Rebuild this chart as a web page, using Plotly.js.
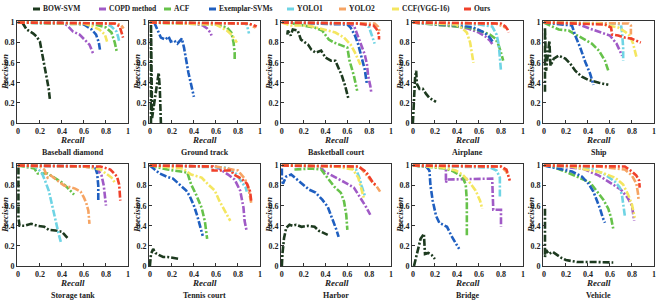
<!DOCTYPE html>
<html><head><meta charset="utf-8">
<script src="https://cdn.plot.ly/plotly-3.0.1.min.js"></script>
<style>html,body{margin:0;padding:0;background:#fff}#chart{width:663px;height:301px}</style>
</head><body><div id="chart"></div>
<script>
const panels = ['Baseball diamond','Ground track','Basketball court','Airplane','Ship','Storage tank','Tennis court','Harbor','Bridge','Vehicle'];
const methods = ['BOW-SVM','COPD method','ACF','Exemplar-SVMs','YOLO1','YOLO2','CCF(VGG-16)','Ours'];
const colors = ['#1d3a1f','#a05ac6','#66c24a','#1f5fc0','#6fd4e4','#f6a463','#f4e660','#f0402a'];
const ticks = [0,0.2,0.4,0.6,0.8,1];
const tickText = ['0','0.2','0.4','0.6','0.8','1'];

// Recall / precision per panel (order of panels above)
const bowR = [
 [0.04,0.08,0.14,0.17,0.2,0.22,0.24,0.26,0.28,0.29],
 [0.01,0.01,0.02,0.04,0.06,0.08,0.09,0.1],
 [0.05,0.055,0.08,0.1,0.145,0.175,0.24,0.27,0.31,0.36,0.4,0.45,0.49,0.52,0.55,0.58,0.61],
 [0.0,0.01,0.02,0.03,0.036,0.06,0.09,0.12,0.15,0.21],
 [0.01,0.01,0.02,0.04,0.05,0.06,0.09,0.135,0.195,0.24,0.285,0.345,0.4,0.5,0.585],
 [0.005,0.005,0.015,0.06,0.12,0.18,0.24,0.28,0.36,0.4,0.45],
 [0.0,0.01,0.03,0.05,0.08,0.12,0.16,0.2,0.27],
 [0.0,0.005,0.02,0.04,0.07,0.1,0.13,0.18,0.24,0.3,0.34,0.42],
 [0.01,0.04,0.07,0.1,0.11,0.14,0.17,0.2],
 [0.01,0.01,0.02,0.045,0.08,0.12,0.16,0.2,0.3,0.45,0.63]];
const bowP = [
 [1.0,0.93,0.89,0.86,0.81,0.68,0.59,0.46,0.34,0.24],
 [0.0,1.0,0.05,0.2,0.35,0.5,0.35,0.0],
 [0.88,0.92,0.87,0.93,0.92,0.83,0.78,0.73,0.7,0.72,0.65,0.62,0.62,0.55,0.47,0.37,0.24],
 [0.0,0.3,0.45,0.52,0.39,0.34,0.34,0.29,0.25,0.21],
 [0.31,0.95,0.52,0.72,0.82,0.57,0.64,0.67,0.64,0.59,0.52,0.46,0.43,0.4,0.38],
 [0.98,0.48,0.4,0.4,0.42,0.4,0.39,0.36,0.35,0.34,0.28],
 [0.0,0.12,0.17,0.13,0.11,0.09,0.09,0.08,0.07],
 [0.0,0.12,0.28,0.38,0.41,0.4,0.41,0.39,0.4,0.39,0.35,0.31],
 [0.0,0.15,0.27,0.32,0.12,0.13,0.11,0.07],
 [0.57,0.09,0.16,0.12,0.14,0.11,0.08,0.06,0.04,0.04,0.035]];

const copdR = [
 [0,0.4,0.45,0.5,0.56,0.61,0.65,0.68,0.69],
 [0,0.4,0.48,0.52,0.55,0.56],
 [0,0.6,0.66,0.7,0.73,0.76,0.78,0.79,0.81,0.82],
 [0,0.2,0.4,0.5,0.6,0.66,0.7,0.73],
 [0,0.3,0.44,0.53,0.6,0.66,0.69,0.71],
 [0,0.6,0.72,0.76,0.78,0.79,0.8],
 [0,0.6,0.71,0.77,0.82,0.85,0.86,0.88],
 [0,0.35,0.39,0.48,0.58,0.66,0.72,0.77,0.81],
 [0,0.3,0.3,0.31,0.72,0.73,0.8,0.8],
 [0,0.35,0.5,0.6,0.7,0.76,0.8,0.82]];
const copdP = [
 [1,1,0.97,0.91,0.88,0.83,0.78,0.7,0.68],
 [1,0.99,0.97,0.94,0.9,0.87],
 [1,0.99,0.97,0.85,0.78,0.68,0.58,0.47,0.37,0.3],
 [1,0.98,0.96,0.94,0.9,0.86,0.82,0.77],
 [1,0.99,0.93,0.9,0.87,0.79,0.72,0.67],
 [1,0.99,0.97,0.9,0.8,0.7,0.6],
 [1,0.99,0.91,0.86,0.75,0.58,0.45,0.34],
 [1,0.99,0.94,0.89,0.83,0.78,0.68,0.59,0.51],
 [1,0.98,0.83,0.86,0.87,0.56,0.56,0.39],
 [1,0.97,0.9,0.83,0.76,0.68,0.6,0.45]];

const acfR = [
 [0,0.7,0.8,0.85,0.88,0.9],
 [0,0.6,0.7,0.74,0.76,0.77,0.77],
 [0.1,0.22,0.3,0.37,0.43,0.48,0.55,0.6,0.62,0.66,0.69],
 [0,0.3,0.5,0.6,0.7,0.75,0.78,0.8,0.82],
 [0,0.135,0.225,0.345,0.435,0.5,0.555,0.585],
 [0,0.15,0.18,0.27,0.33,0.4,0.45,0.51],
 [0,0.16,0.28,0.34,0.375,0.42,0.47,0.5,0.52],
 [0.115,0.27,0.36,0.42,0.48,0.54,0.57,0.59,0.6],
 [0,0.3,0.37,0.45,0.48,0.49,0.49],
 [0,0.075,0.195,0.285,0.36,0.42,0.48,0.54,0.585,0.61,0.63]];
const acfP = [
 [1,0.98,0.95,0.9,0.8,0.7],
 [1,0.98,0.95,0.9,0.8,0.7,0.62],
 [0.99,0.97,0.95,0.92,0.83,0.8,0.77,0.75,0.62,0.47,0.32],
 [1,0.97,0.95,0.92,0.88,0.84,0.77,0.7,0.62],
 [1,0.93,0.92,0.85,0.79,0.72,0.62,0.52],
 [1,0.97,0.92,0.92,0.88,0.83,0.78,0.71],
 [1,0.96,0.94,0.93,0.81,0.71,0.58,0.44,0.27],
 [0.96,0.97,0.96,0.87,0.79,0.73,0.64,0.51,0.36],
 [1,0.97,0.94,0.89,0.81,0.65,0.3],
 [1,0.99,0.94,0.9,0.86,0.83,0.75,0.66,0.57,0.48,0.37]];

const exR = [
 [0,0.55,0.6,0.67,0.71,0.735,0.745],
 [0.04,0.1,0.14,0.17,0.19,0.22,0.25,0.29,0.31,0.35,0.4],
 [0,0.6,0.63,0.67,0.7,0.73,0.76,0.78],
 [0,0.45,0.55,0.65,0.7,0.73],
 [0,0.255,0.285,0.33,0.375,0.42,0.45],
 [0,0.7,0.72,0.73,0.73],
 [0,0.09,0.15,0.21,0.28,0.33,0.36,0.4,0.43,0.46,0.48],
 [0,0,0.01,0.04,0.085,0.13,0.19,0.25,0.31,0.37,0.42,0.46,0.5,0.52],
 [0,0.12,0.15,0.16,0.18,0.21,0.24,0.31,0.35,0.42],
 [0,0.135,0.255,0.345,0.405,0.45,0.48,0.51,0.535,0.555]];
const exP = [
 [1,0.99,0.98,0.93,0.88,0.8,0.73],
 [1.0,0.85,0.83,0.86,0.81,0.82,0.79,0.84,0.75,0.5,0.26],
 [1,0.98,0.95,0.87,0.78,0.65,0.53,0.38],
 [1,0.97,0.95,0.9,0.85,0.8],
 [1,0.97,0.87,0.75,0.61,0.49,0.38],
 [1,0.99,0.92,0.8,0.65],
 [1,0.92,0.89,0.87,0.8,0.75,0.7,0.6,0.5,0.38,0.3],
 [0.97,0.86,0.82,0.89,0.91,0.87,0.81,0.76,0.73,0.66,0.59,0.48,0.36,0.29],
 [1,0.99,0.95,0.8,0.65,0.5,0.43,0.39,0.3,0.17],
 [1,0.97,0.94,0.89,0.82,0.74,0.66,0.57,0.48,0.43]];

const y1R = [
 [0,0.8,0.85,0.895,0.91,0.92],
 [0,0.86,0.88,0.89,0.9],
 [0,0.75,0.8,0.83,0.85],
 [0,0.6,0.72,0.76,0.78,0.79,0.8],
 [0,0.65,0.7,0.71,0.72,0.72],
 [0,0.15,0.18,0.22,0.25,0.28,0.31,0.34,0.37,0.39],
 [0,0.7,0.78,0.84,0.87,0.88],
 [0,0.6,0.68,0.71,0.73,0.75,0.76],
 [0,0.7,0.76,0.79,0.79,0.79],
 [0,0.3,0.435,0.555,0.645,0.69,0.71,0.72,0.735]];
const y1P = [
 [1,0.99,0.96,0.91,0.86,0.81],
 [1,0.99,0.98,0.93,0.89],
 [1,0.99,0.95,0.86,0.79],
 [1,0.98,0.96,0.88,0.78,0.68,0.52],
 [1,0.99,0.98,0.9,0.75,0.62],
 [1,0.99,0.97,0.92,0.84,0.75,0.61,0.45,0.32,0.24],
 [1,0.98,0.92,0.83,0.78,0.74],
 [1,0.99,0.96,0.88,0.8,0.74,0.7],
 [1,0.98,0.95,0.88,0.78,0.68],
 [1,0.99,0.97,0.91,0.84,0.78,0.7,0.61,0.5]];

const y2R = [
 [0,0.9,0.94,0.96],
 [0,0.9,0.94,0.96],
 [0,0.85,0.88,0.9],
 [0,0.75,0.8,0.84],
 [0,0.77,0.79,0.79],
 [0,0.2,0.24,0.27,0.3,0.37,0.42,0.52,0.57,0.6,0.62,0.64,0.65],
 [0,0.6,0.8,0.86,0.89,0.91,0.92],
 [0,0.7,0.72,0.8,0.84,0.87,0.9],
 [0,0.8,0.85,0.86],
 [0,0.5,0.65,0.735,0.8,0.84,0.855,0.86]];
const y2P = [
 [1,0.99,0.97,0.94],
 [1,0.99,0.96,0.95],
 [1,0.99,0.96,0.9],
 [1,0.99,0.97,0.95],
 [1,0.99,0.97,0.88],
 [1,0.99,0.96,0.88,0.9,0.84,0.8,0.77,0.74,0.68,0.63,0.55,0.42],
 [1,0.99,0.95,0.87,0.8,0.7,0.63],
 [1,0.99,0.98,0.87,0.82,0.79,0.74],
 [1,0.99,0.94,0.9],
 [1,0.99,0.97,0.96,0.9,0.82,0.72,0.66]];

const ccfR = [
 [0,0.6,0.68,0.74,0.79,0.81],
 [0,0.6,0.7,0.75,0.79],
 [0,0.085,0.24,0.42,0.49,0.57,0.63,0.67,0.7,0.72],
 [0,0.39,0.45,0.49,0.52,0.54,0.55],
 [0,0.5,0.675,0.735,0.78,0.81,0.84],
 [0,0.6,0.75,0.8,0.85,0.88],
 [0,0.3,0.375,0.47,0.53,0.59,0.63,0.68,0.73],
 [0,0.5,0.65,0.7,0.72,0.74,0.75],
 [0,0.27,0.39,0.45,0.51,0.57,0.61,0.63],
 [0,0.25,0.375,0.525,0.645,0.72,0.765,0.8,0.825]];
const ccfP = [
 [1,0.99,0.96,0.93,0.88,0.81],
 [1,0.98,0.92,0.87,0.8],
 [1,0.97,0.97,0.92,0.9,0.85,0.78,0.7,0.63,0.58],
 [1,0.98,0.94,0.9,0.8,0.68,0.6],
 [1,0.99,0.95,0.91,0.87,0.79,0.66],
 [1,0.99,0.96,0.92,0.88,0.83],
 [1,0.97,0.91,0.88,0.81,0.75,0.65,0.55,0.45],
 [1,0.99,0.96,0.88,0.8,0.72,0.68],
 [1,0.98,0.95,0.91,0.84,0.75,0.65,0.57],
 [1,0.99,0.96,0.93,0.88,0.81,0.71,0.61,0.48]];

const oursR = [
 [0,0.88,0.925,0.94,0.955],
 [0,0.88,0.93,0.97],
 [0,0.69,0.84,0.87,0.89,0.89],
 [0,0.8,0.84,0.86,0.87],
 [0,0.555,0.61,0.62,0.675,0.735,0.795,0.84,0.88],
 [0,0.75,0.84,0.9,0.92,0.93],
 [0,0.57,0.57,0.74,0.76,0.79,0.83,0.88,0.91,0.92],
 [0,0.7,0.77,0.81,0.84,0.86],
 [0,0.8,0.85,0.87,0.88],
 [0,0.6,0.735,0.8,0.84,0.865,0.87]];
const oursP = [
 [1,0.99,0.96,0.91,0.85],
 [1,0.99,0.98,0.96],
 [1,0.99,0.97,0.93,0.88,0.83],
 [1,0.99,0.96,0.93,0.9],
 [1,0.98,0.95,0.88,0.87,0.85,0.84,0.82,0.8],
 [1,0.99,0.96,0.89,0.81,0.65],
 [1,0.99,0.95,0.95,0.91,0.89,0.87,0.82,0.74,0.65],
 [1,0.99,0.94,0.87,0.82,0.81],
 [1,0.99,0.96,0.9,0.85],
 [1,0.99,0.99,0.94,0.9,0.85,0.78]];

const allR = [bowR,copdR,acfR,exR,y1R,y2R,ccfR,oursR];
const allP = [bowP,copdP,acfP,exP,y1P,y2P,ccfP,oursP];

const W = 663, H = 301;
const colsPx = [[17,128],[149,260],[281,391],[412,523],[543,654]];
const rowsPx = [[21,123],[164,266]];
const fx = px => px / W;
const fy = px => 1 - px / H;
const serif = 'Liberation Serif, Times New Roman, serif';

const traces = [];
methods.forEach((m, mi) => {
  panels.forEach((p, pi) => {
    const s = pi === 0 ? '' : String(pi + 1);
    traces.push({
      x: allR[mi][pi], y: allP[mi][pi], xaxis: 'x' + s, yaxis: 'y' + s,
      type: 'scatter', mode: 'lines', name: m, showlegend: false, hoverinfo: 'skip',
      line: {color: colors[mi], width: 2.6, dash: '7px,2px,2px,2px'}
    });
  });
});

const layout = {
  width: W, height: H, margin: {l: 0, r: 0, t: 0, b: 0},
  paper_bgcolor: '#fff', plot_bgcolor: '#fff', showlegend: false,
  annotations: [], shapes: []
};

panels.forEach((p, pi) => {
  const s = pi === 0 ? '' : String(pi + 1);
  const c = colsPx[pi % 5], r = rowsPx[Math.floor(pi / 5)];
  const axCommon = {
    tickvals: ticks, ticktext: tickText, showgrid: false, zeroline: false,
    showline: true, mirror: true, linecolor: '#333', linewidth: 1,
    ticks: 'inside', ticklen: 3, tickcolor: '#333', fixedrange: true,
    tickfont: {family: serif, size: 8, color: '#222', weight: 'bold'}
  };
  layout['xaxis' + s] = Object.assign({}, axCommon, {range: [-0.008, 1], domain: [fx(c[0]), fx(c[1])], anchor: 'y' + s});
  layout['yaxis' + s] = Object.assign({}, axCommon, {range: [0, 1.015], domain: [fy(r[1]), fy(r[0])], anchor: 'x' + s});
  const cx = (c[0] + c[1]) / 2, cy = (r[0] + r[1]) / 2;
  layout.annotations.push({
    text: 'Recall', xref: 'paper', yref: 'paper', x: fx(cx), y: fy(r[1] + 17),
    xanchor: 'center', yanchor: 'middle', showarrow: false,
    font: {family: serif, size: 9, color: '#222', weight: 'bold', style: 'italic'}
  });
  layout.annotations.push({
    text: p, xref: 'paper', yref: 'paper', x: fx(cx), y: fy(r[1] + 29),
    xanchor: 'center', yanchor: 'middle', showarrow: false,
    font: {family: serif, size: 8, color: '#222', weight: 'bold'}
  });
  layout.annotations.push({
    text: 'Precision', xref: 'paper', yref: 'paper', x: fx(c[0] - 12), y: fy(cy),
    xanchor: 'center', yanchor: 'middle', showarrow: false, textangle: -90,
    font: {family: serif, size: 9, color: '#222', weight: 'bold', style: 'italic'}
  });
});

// legend row
const legendBarX = [33, 99, 164, 209, 287, 339, 392, 464];
methods.forEach((m, mi) => {
  const x0 = legendBarX[mi];
  layout.shapes.push({
    type: 'rect', xref: 'paper', yref: 'paper',
    x0: fx(x0), x1: fx(x0 + 7), y0: fy(10.5), y1: fy(7.5),
    fillcolor: colors[mi], line: {width: 0}
  });
  layout.annotations.push({
    text: m, xref: 'paper', yref: 'paper', x: fx(x0 + 8), y: fy(9),
    xanchor: 'left', yanchor: 'middle', showarrow: false,
    font: {family: serif, size: 7.5, color: '#222', weight: 'bold'}
  });
});

Plotly.newPlot('chart', traces, layout, {displayModeBar: false, staticPlot: true});
</script>
</body></html>
